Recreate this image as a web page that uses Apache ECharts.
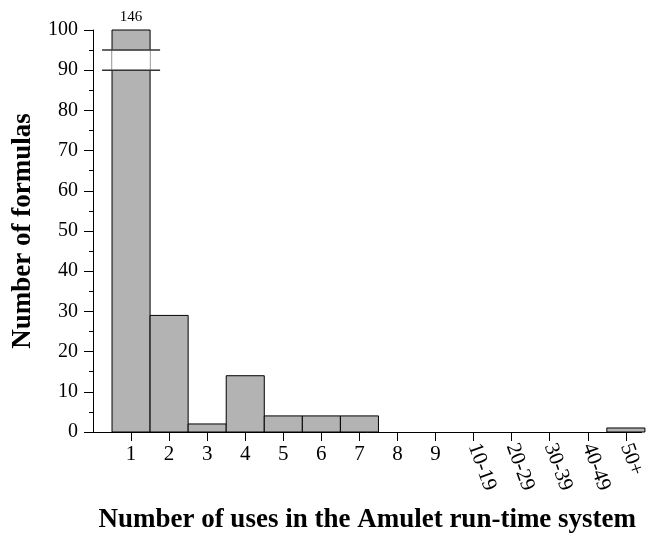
<!DOCTYPE html>
<html>
<head>
<meta charset="utf-8">
<script src="https://cdn.jsdelivr.net/npm/echarts@6/dist/echarts.min.js"></script>
<style>html,body{margin:0;padding:0;background:#fff}#c{width:648px;height:539px}</style>
</head>
<body>
<div id="c"></div>
<script>
var categories = ['1','2','3','4','5','6','7','8','9','10-19','20-29','30-39','40-49','50+'];
var counts = [146, 29, 2, 14, 4, 4, 4, 0, 0, 0, 0, 0, 0, 1];
var yTicks = [0,10,20,30,40,50,60,70,80,90,100];
var yMax = 100;
var breakLow = 90, breakHigh = 95;
var xTitle = 'Number of uses in the Amulet run-time system';
var yTitle = 'Number of formulas';

var FONT = '"Liberation Serif", "Times New Roman", serif';
var chart = echarts.init(document.getElementById('c'), null, {renderer: 'canvas'});

var positions = categories.map(function(_, i){ return i + 1; });
var seriesData = categories.map(function(_, i){ return [i + 1, counts[i]]; });
var plainIdx = positions.filter(function(p){ return /^\d+$/.test(categories[p-1]); });
var rotIdx = positions.filter(function(p){ return plainIdx.indexOf(p) < 0; });

function renderBar(params, api) {
  var x = api.value(0), v = api.value(1);
  if (!(v > 0)) return null;
  var shown = Math.min(v, yMax);
  var p0 = api.coord([x - 0.5, 0]);
  var p1 = api.coord([x + 0.5, shown]);
  var children = [{
    type: 'rect',
    shape: {x: p0[0], y: p1[1], width: p1[0] - p0[0], height: p0[1] - p1[1]},
    style: {fill: '#b3b3b3', stroke: '#000', lineWidth: 1}
  }];
  if (v > yMax) {
    var bLo = api.coord([x, breakLow])[1];
    var bHi = api.coord([x, breakHigh])[1];
    children.push({
      type: 'rect',
      shape: {x: p0[0], y: bHi, width: p1[0] - p0[0], height: bLo - bHi},
      style: {fill: '#fff', stroke: '#d4d4d4', lineWidth: 1}
    });
    [bLo, bHi].forEach(function(yy){
      children.push({
        type: 'line',
        shape: {x1: p0[0] - 10, y1: yy, x2: p1[0] + 10, y2: yy},
        style: {stroke: '#333', lineWidth: 1.5}
      });
    });
    children.push({
      type: 'text',
      x: (p0[0] + p1[0]) / 2, y: p1[1] - 13,
      style: {text: String(v), fill: '#000', font: '15px ' + FONT, align: 'center', verticalAlign: 'middle'}
    });
  }
  return {type: 'group', children: children};
}

var xCommon = {
  type: 'value', min: 0, max: 14.41, interval: 1,
  splitLine: {show: false}
};

chart.setOption({
  animation: false,
  backgroundColor: '#fff',
  grid: {left: 93, right: 0, top: 30, bottom: 106, containLabel: false},
  xAxis: [
    Object.assign({}, xCommon, {
      position: 'bottom',
      name: xTitle, nameLocation: 'middle', nameGap: 75,
      nameTextStyle: {fontFamily: FONT, fontWeight: 'bold', fontSize: 27, color: '#000'},
      axisLine: {show: true, lineStyle: {color: '#000', width: 1}},
      axisTick: {show: true, inside: false, length: 9, lineStyle: {color: '#000'}, customValues: positions},
      axisLabel: {show: true, customValues: plainIdx, margin: 12, fontFamily: FONT, fontSize: 21, color: '#000',
        formatter: function(v){ return categories[Math.round(v) - 1] || ''; }}
    }),
    Object.assign({}, xCommon, {
      position: 'bottom',
      axisLine: {show: false},
      axisTick: {show: false},
      axisLabel: {show: true, customValues: rotIdx, rotate: -70, margin: 12, fontFamily: FONT, fontSize: 21, color: '#000',
        formatter: function(v){ return categories[Math.round(v) - 1] || ''; }}
    })
  ],
  yAxis: {
    type: 'value', min: 0, max: yMax, interval: 10,
    name: yTitle, nameLocation: 'middle', nameGap: 56,
    nameTextStyle: {fontFamily: FONT, fontWeight: 'bold', fontSize: 27, color: '#000'},
    axisLine: {show: true, lineStyle: {color: '#000', width: 1}},
    axisTick: {show: true, inside: false, length: 9, lineStyle: {color: '#000'}},
    minorTick: {show: true, splitNumber: 2, length: 4, lineStyle: {color: '#000'}},
    splitLine: {show: false},
    axisLabel: {margin: 15, fontFamily: FONT, fontSize: 20, color: '#000',
      formatter: function(v){ return yTicks.indexOf(v) >= 0 ? String(v) : ''; }}
  },
  series: [{
    type: 'custom',
    xAxisIndex: 0,
    renderItem: renderBar,
    encode: {x: 0, y: 1},
    data: seriesData,
    clip: false
  }]
});
</script>
</body>
</html>
